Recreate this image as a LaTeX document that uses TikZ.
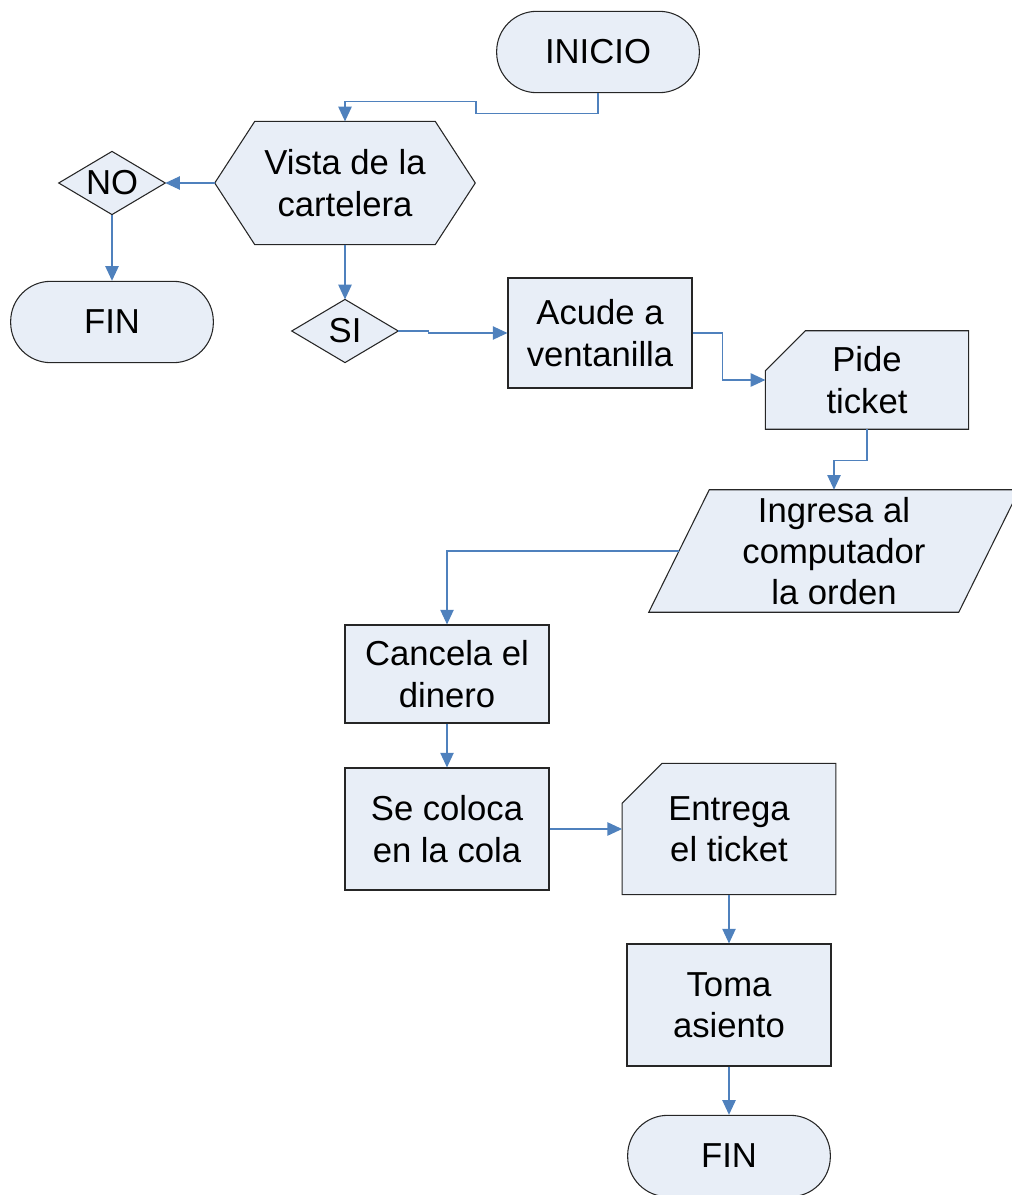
\documentclass[tikz,border=0pt]{standalone}
\usepackage{fontspec}
\setmainfont{Liberation Sans}
\usepackage{tikz}
\usetikzlibrary{arrows.meta}
\usetikzlibrary{backgrounds}
\usetikzlibrary{calc}

\definecolor{boxfill}{RGB}{232,238,247}
\definecolor{flowblue}{RGB}{79,129,189}

\begin{document}
\begin{tikzpicture}[x=0.75pt,y=-0.75pt,>={Triangle[length=11pt,width=10pt]},
        flow/.style={->,draw=flowblue,line width=1pt},
        txt/.style={font=\fontsize{26}{31}\selectfont,align=center,inner sep=0pt},
        proc/.style={txt,rectangle,draw=black!85,fill=boxfill,line width=0.8pt},
        term/.style={proc,rounded corners=30pt,minimum width=152pt,minimum height=61pt},
        outline/.style={draw=black!85,fill=boxfill,line width=0.8pt}]

        \useasboundingbox (0,0) rectangle (1011,1195);

        \node [term]    (inicio)   at (598,52)  {INICIO};
        \node [txt,minimum width=195pt,minimum height=92pt]   (vista) at (345,183) {Vista de la\\cartelera};
        \node [txt,minimum width=79.5pt,minimum height=47pt]  (no)    at (112,183) {NO};
        \node [term]    (fin1)     at (112,322) {FIN};
        \node [txt,minimum width=79.5pt,minimum height=47pt]  (si)    at (345,331) {SI};
        \node [proc,minimum width=138pt,minimum height=82.5pt] (acude) at (600,333) {Acude a\\ventanilla};
        \node [txt,minimum width=152pt,minimum height=73.5pt] (pide)  at (867,380) {Pide\\ticket};
        \node [txt,minimum width=277.5pt,minimum height=91.5pt] (ingresa) at (834,551) {Ingresa al\\computador\\la orden};
        \node [proc,minimum width=153pt,minimum height=73.5pt] (cancela)  at (447,674) {Cancela el\\dinero};
        \node [proc,minimum width=153pt,minimum height=91.5pt] (secoloca) at (447,829) {Se coloca\\en la cola};
        \node [txt,minimum width=160pt,minimum height=98pt]    (entrega)  at (729,829) {Entrega\\el ticket};
        \node [proc,minimum width=153pt,minimum height=91.5pt] (toma)     at (729,1005) {Toma\\asiento};
        \node [term]    (fin2)     at (729,1156) {FIN};

        \draw[flow] (inicio.south) -- ++(0,20) -- ++(-122,0) -- ++(0,-12) -| (vista.north);
        \draw[flow] (vista.west) -- (no.east);
        \draw[flow] (no.south) -- (fin1.north);
        \draw[flow] (vista.south) -- (si.north);
        \draw[flow] (si.east) -- ++(30,0) -- ++(0,2) -- (acude.west);
        \draw[flow] (acude.east) -- ++(30,0) |- (pide.west);
        \draw[flow] (pide.south) -- ++(0,31) -| (ingresa.north);
        \draw[flow] ($(ingresa.west)+(30,0)$) -| (cancela.north);
        \draw[flow] (cancela.south) -- (secoloca.north);
        \draw[flow] (secoloca.east) -- (entrega.west);
        \draw[flow] (entrega.south) -- (toma.north);
        \draw[flow] (toma.south) -- (fin2.north);

        \begin{pgfonlayer}{background}
          % hexagon
          \path[outline] (vista.west) -- ($(vista.north west)+(40,0)$) -- ($(vista.north east)+(-40,0)$)
            -- (vista.east) -- ($(vista.south east)+(-40,0)$) -- ($(vista.south west)+(40,0)$) -- cycle;
          % decisions
          \foreach \d in {no,si}
            \path[outline] (\d.west) -- (\d.north) -- (\d.east) -- (\d.south) -- cycle;
          % cut corner cards
          \foreach \c in {pide,entrega}
            \path[outline] (\c.south west) -- ($(\c.north west)+(0,40)$) -- ($(\c.north west)+(40,0)$)
              -- (\c.north east) -- (\c.south east) -- cycle;
          % data
          \path[outline] (ingresa.south west) -- ++(310,0) -- (ingresa.north east) -- ++(-310,0) -- cycle;
        \end{pgfonlayer}
      \end{tikzpicture}
\end{document}
